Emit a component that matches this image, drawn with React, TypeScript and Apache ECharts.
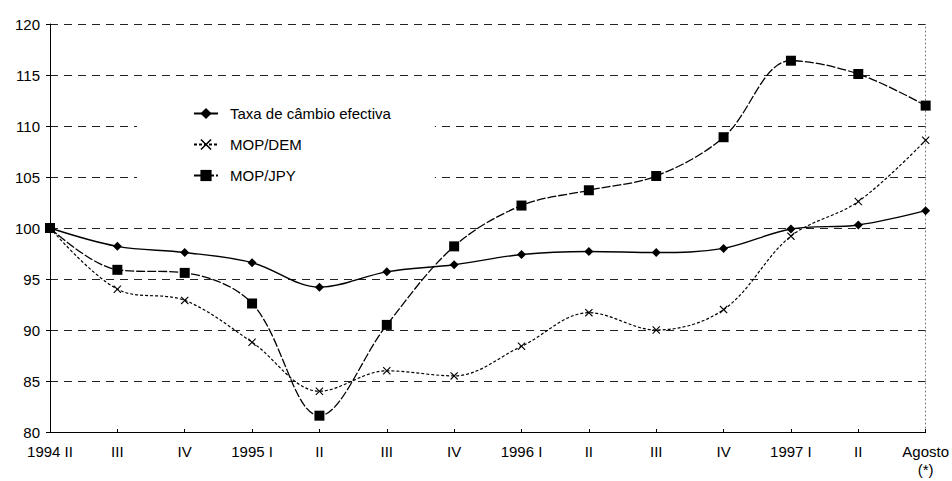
import React, { useEffect, useRef } from "react";
import * as echarts from "echarts";

const categories = [
  "1994 II", "III", "IV", "1995 I", "II", "III", "IV",
  "1996 I", "II", "III", "IV", "1997 I", "II", "Agosto\n(*)",
];
const taxaEfectiva = [100, 98.2, 97.6, 96.6, 94.2, 95.7, 96.4, 97.4, 97.7, 97.6, 98.0, 99.9, 100.3, 101.7];
const mopDem = [100, 94.0, 92.9, 88.8, 84.0, 86.0, 85.5, 88.4, 91.7, 90.0, 92.0, 99.2, 102.6, 108.6];
const mopJpy = [100, 95.9, 95.6, 92.6, 81.6, 90.5, 98.2, 102.2, 103.7, 105.1, 108.9, 116.4, 115.1, 112.0];
const seriesNames = ["Taxa de câmbio efectiva", "MOP/DEM", "MOP/JPY"];

const FONT = "'Liberation Sans', Arial, sans-serif";
const X_SYMBOL =
  "path://M0,1 L1,0 L5,4 L9,0 L10,1 L6,5 L10,9 L9,10 L5,6 L1,10 L0,9 L4,5 Z";

export default function App() {
  const ref = useRef<HTMLDivElement>(null);
  useEffect(() => {
    if (!ref.current) return;
    const chart = echarts.init(ref.current, undefined, { renderer: "svg" });
    chart.setOption({
      animation: false,
      backgroundColor: "#ffffff",
      textStyle: { fontFamily: FONT, color: "#000" },
      grid: { left: 50, right: 25, top: 24, bottom: 49 },
      legend: {
        orient: "vertical",
        left: 137,
        top: 90,
        padding: [16, 44, 16, 56],
        backgroundColor: "#ffffff",
        itemWidth: 24,
        itemHeight: 14,
        itemGap: 16,
        data: seriesNames,
        textStyle: { fontFamily: FONT, fontSize: 15, color: "#000", padding: [0, 0, 0, 7] },
      },
      xAxis: {
        type: "category",
        data: categories,
        boundaryGap: false,
        axisLine: { lineStyle: { color: "#000", width: 1 } },
        axisTick: { show: true, length: 3, inside: true, lineStyle: { color: "#000" } },
        axisLabel: {
          color: "#000",
          fontFamily: FONT,
          fontSize: 15,
          margin: 10,
          interval: 0,
          lineHeight: 18,
        },
        splitLine: { show: false },
      },
      yAxis: [
        {
          type: "value",
          min: 80,
          max: 120,
          interval: 5,
          axisLine: { show: true, lineStyle: { color: "#000", width: 1 } },
          axisTick: { show: true, length: 4, lineStyle: { color: "#000" } },
          axisLabel: { color: "#000", fontFamily: FONT, fontSize: 15, margin: 10 },
          splitLine: {
            show: true,
            lineStyle: { color: "#222", width: 1, type: [8, 6] },
          },
        },
        {
          type: "value",
          position: "right",
          min: 80,
          max: 120,
          interval: 5,
          axisLine: { show: true, lineStyle: { color: "#777", width: 1, type: [1, 3] } },
          axisTick: { show: false },
          axisLabel: { show: false },
          splitLine: { show: false },
        },
      ],
      series: [
        {
          name: seriesNames[0],
          type: "line",
          data: taxaEfectiva,
          smooth: 0.35,
          symbol: "diamond",
          symbolSize: 9,
          itemStyle: { color: "#000" },
          lineStyle: { color: "#000", width: 1.4, type: "solid" },
        },
        {
          name: seriesNames[1],
          type: "line",
          data: mopDem,
          smooth: 0.35,
          symbol: X_SYMBOL,
          symbolSize: 8,
          itemStyle: { color: "#000" },
          lineStyle: { color: "#000", width: 1.2, type: [3, 2] },
        },
        {
          name: seriesNames[2],
          type: "line",
          data: mopJpy,
          smooth: 0.35,
          symbol: "rect",
          symbolSize: 10,
          itemStyle: { color: "#000" },
          lineStyle: { color: "#000", width: 1.3, type: [9, 2] },
        },
      ],
    });
    return () => chart.dispose();
  }, []);
  return (
    <div
      ref={ref}
      style={{ position: "fixed", left: 0, top: 0, width: 952, height: 481, background: "#fff" }}
    />
  );
}
